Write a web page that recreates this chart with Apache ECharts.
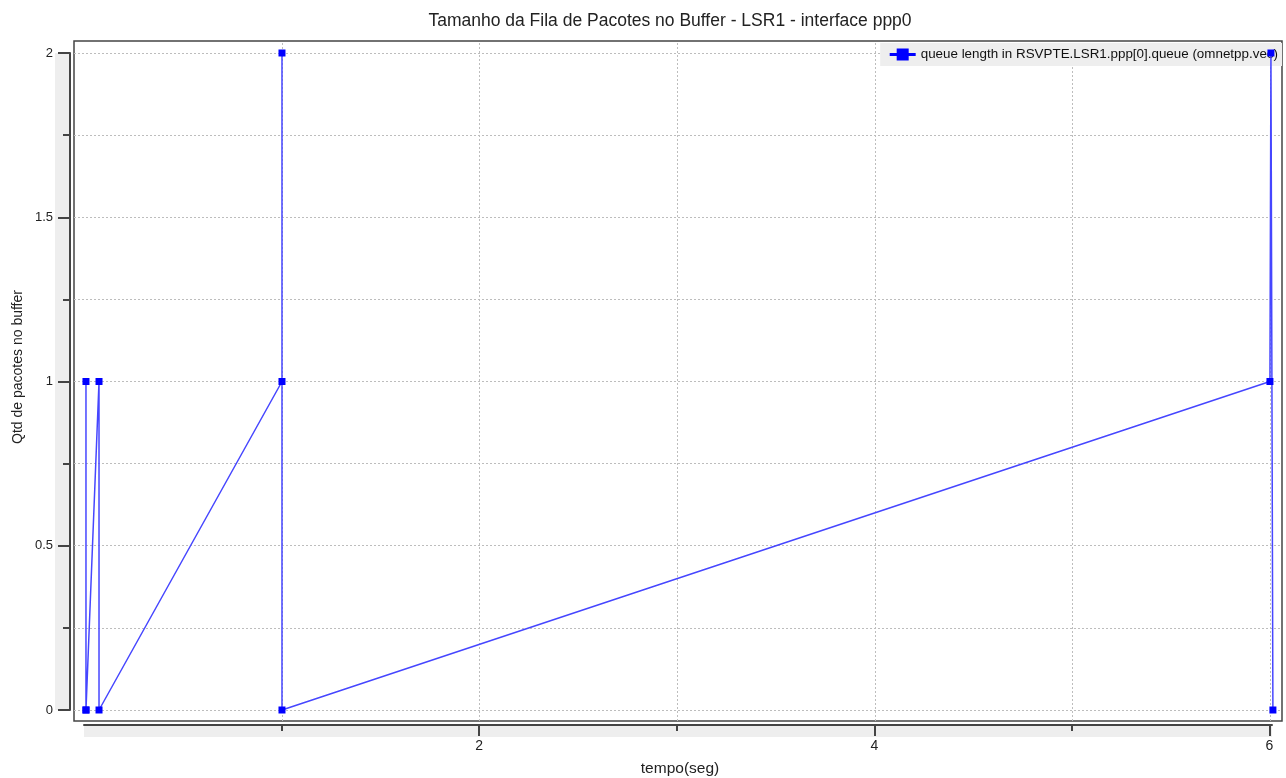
<!DOCTYPE html>
<html>
<head>
<meta charset="utf-8">
<script src="https://cdn.jsdelivr.net/npm/echarts@6/dist/echarts.min.js"></script>
<style>
html,body{margin:0;padding:0;background:#fff;}
#chart{width:1286px;height:778px;}
</style>
</head>
<body>
<div id="chart"></div>
<script>
// ---- data ----
const seriesName = 'queue length in RSVPTE.LSR1.ppp[0].queue (omnetpp.vec)';
const timeValues  = [0.008, 0.008, 0.008, 0.074, 0.074, 1.0, 1.0, 1.0, 6.0, 6.005, 6.015];
const queueValues = [0,     1,     0,     1,     0,     1,   2,   0,   1,   2,     0];
const xLabelTicks = [2, 4, 6];
const xMinorTicks = [1, 3, 5];
const xGridValues = [1, 2, 3, 4, 5, 6];
const yGridValues = [0, 0.25, 0.5, 0.75, 1, 1.25, 1.5, 1.75, 2];

const FONT = 'Liberation Sans, Arial, Helvetica, sans-serif';
const AXIS_COLOR = '#444';
const TEXT_COLOR = '#222';

const points = timeValues.map((t, i) => [t, queueValues[i]]);
const gridMarks = xGridValues.map(v => ({ xAxis: v }))
  .concat(yGridValues.map(v => ({ yAxis: v })));

const chart = echarts.init(document.getElementById('chart'), null, { renderer: 'canvas' });

chart.setOption({
  animation: false,
  backgroundColor: '#ffffff',
  title: {
    text: 'Tamanho da Fila de Pacotes no Buffer - LSR1 - interface ppp0',
    left: 665, top: 7, textAlign: 'center',
    textStyle: { fontFamily: FONT, fontSize: 17.5, fontWeight: 'normal', color: TEXT_COLOR }
  },
  legend: {
    data: [seriesName],
    right: 4, top: 43,
    backgroundColor: '#eeeeee',
    padding: [5, 4, 5, 8],
    itemWidth: 26, itemHeight: 15, itemGap: 4,
    lineStyle: { width: 3, color: '#0000ff' },
    itemStyle: { color: '#0000ff' },
    textStyle: { fontFamily: FONT, fontSize: 13.4, color: '#111' }
  },
  graphic: [
    { type: 'text', x: 18, y: 367, rotation: Math.PI / 2, silent: true,
      style: { text: 'Qtd de pacotes no buffer', fontFamily: FONT, fontSize: 14, fill: TEXT_COLOR,
        textAlign: 'center', textVerticalAlign: 'middle' } },
    { type: 'text', x: 680, y: 769, silent: true,
      style: { text: 'tempo(seg)', fontFamily: FONT, fontSize: 15.5, fill: TEXT_COLOR,
        textAlign: 'center', textVerticalAlign: 'middle' } }
  ],
  grid: [
    { left: 74, top: 41, width: 1208, height: 680, show: true, borderColor: AXIS_COLOR, borderWidth: 1.5, backgroundColor: '#fff', containLabel: false },
    { left: 84, top: 724, width: 1188, height: 13, show: true, borderWidth: 0, backgroundColor: '#eeeeee', containLabel: false },
    { left: 55, top: 53, width: 15, height: 657, show: true, borderWidth: 0, backgroundColor: '#eeeeee', containLabel: false }
  ],
  xAxis: [
    { gridIndex: 0, type: 'value', min: -0.0526, max: 6.061,
      axisLine: { show: false, onZero: false }, axisTick: { show: false }, axisLabel: { show: false }, splitLine: { show: false } },
    { gridIndex: 1, type: 'value', position: 'bottom', offset: -12, min: 0, max: 6.013,
      axisLine: { show: true, onZero: false, lineStyle: { color: AXIS_COLOR, width: 2 } },
      axisTick: { show: true, inside: false, length: 11, customValues: xLabelTicks, lineStyle: { color: AXIS_COLOR, width: 2 } },
      axisLabel: { show: true, inside: false, margin: 14, customValues: xLabelTicks,
        fontFamily: FONT, fontSize: 14, color: TEXT_COLOR },
      splitLine: { show: false } },
    { gridIndex: 1, type: 'value', position: 'bottom', offset: -12, min: 0, max: 6.013,
      axisLine: { show: false, onZero: false },
      axisTick: { show: true, inside: false, length: 6, customValues: xMinorTicks, lineStyle: { color: AXIS_COLOR, width: 2 } },
      axisLabel: { show: false }, splitLine: { show: false } },
    { gridIndex: 2, type: 'value', show: false, min: 0, max: 1, axisLine: { onZero: false } }
  ],
  yAxis: [
    { gridIndex: 0, type: 'value', min: -0.0335, max: 2.0365,
      axisLine: { show: false, onZero: false }, axisTick: { show: false }, axisLabel: { show: false }, splitLine: { show: false } },
    { gridIndex: 2, type: 'value', position: 'left', offset: -15, min: 0, max: 2, interval: 0.5,
      axisLine: { show: true, onZero: false, lineStyle: { color: AXIS_COLOR, width: 2 } },
      axisTick: { show: true, inside: false, length: 12, lineStyle: { color: AXIS_COLOR, width: 2 } },
      minorTick: { show: true, splitNumber: 2, length: 7, lineStyle: { color: AXIS_COLOR, width: 2 } },
      axisLabel: { show: true, inside: false, margin: 17, fontFamily: FONT, fontSize: 13, color: TEXT_COLOR },
      splitLine: { show: false }, minorSplitLine: { show: false } },
    { gridIndex: 1, type: 'value', show: false, min: 0, max: 1, axisLine: { onZero: false } }
  ],
  series: [
    { name: 'grid', type: 'line', xAxisIndex: 0, yAxisIndex: 0, z: 1,
      data: points, showSymbol: false, symbol: 'none', lineStyle: { opacity: 0 }, silent: true,
      markLine: { silent: true, z: 1, symbol: ['none', 'none'], label: { show: false },
        lineStyle: { type: [2, 2], color: '#bdbdbd', width: 1 },
        emphasis: { disabled: true },
        data: gridMarks } },
    { name: seriesName, type: 'line', xAxisIndex: 0, yAxisIndex: 0, z: 6,
      data: points,
      symbol: 'rect', symbolSize: 7, showAllSymbol: true,
      itemStyle: { color: '#0000ff' },
      lineStyle: { color: '#4646ff', width: 1.5 } }
  ]
});
</script>
</body>
</html>
